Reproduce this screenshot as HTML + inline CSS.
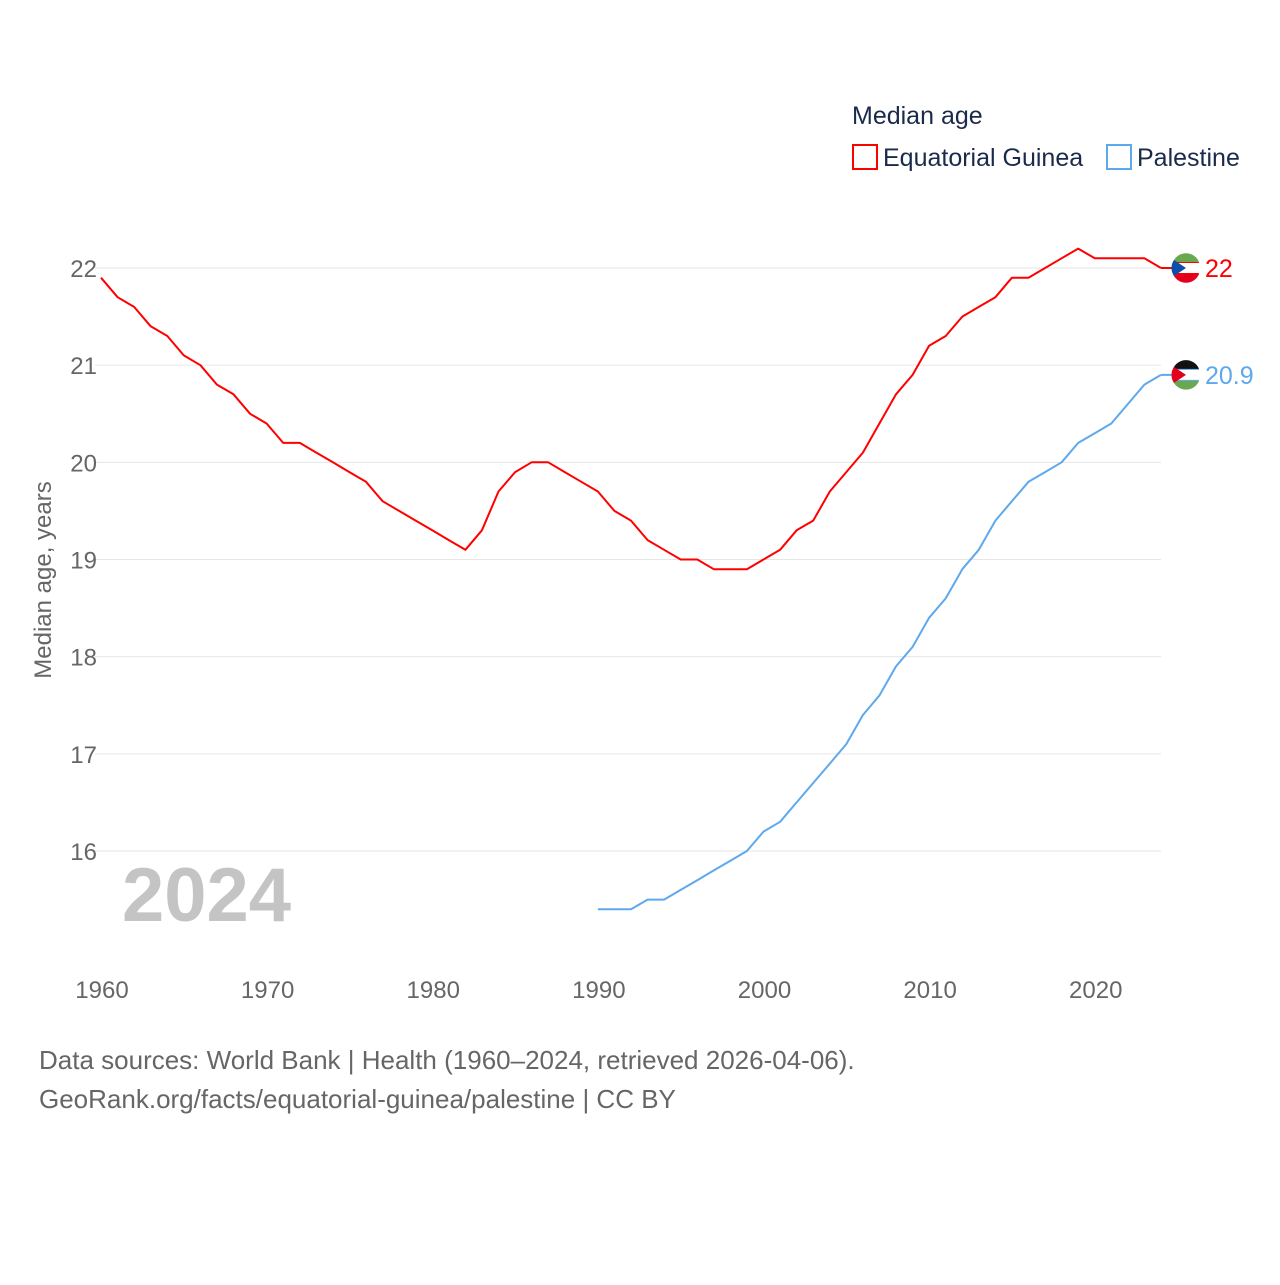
<!DOCTYPE html>
<html><head><meta charset="utf-8"><style>
body{margin:0;background:#fff;font-family:"Liberation Sans",sans-serif;}
svg text{font-family:"Liberation Sans",sans-serif;}
</style></head><body>
<svg id="chart" width="1280" height="1280" viewBox="0 0 1280 1280">
<rect width="1280" height="1280" fill="#fff"/>
<text x="852" y="124" font-size="25" fill="#1a2a4a">Median age</text>
<g><rect x="853" y="145" width="24" height="24" fill="none" stroke="#f00" stroke-width="2"/><text x="883" y="166" font-size="25" fill="#1a2a4a">Equatorial Guinea</text></g>
<g><rect x="1107" y="145" width="24" height="24" fill="none" stroke="#5ea8ee" stroke-width="2"/><text x="1137" y="166" font-size="25" fill="#1a2a4a">Palestine</text></g>
<g id="grid"></g>
<g id="yticks"></g>
<g id="xticks"></g>
<text transform="translate(51,580) rotate(-90)" text-anchor="middle" font-size="24" fill="#666">Median age, years</text>
<text x="122" y="921" font-size="76" font-weight="bold" fill="#c4c4c4">2024</text>
<g id="series"></g>
<text x="39" y="1069" font-size="26" fill="#666">Data sources: World Bank | Health (1960–2024, retrieved 2026-04-06).</text>
<text x="39" y="1108" font-size="26" fill="#666">GeoRank.org/facts/equatorial-guinea/palestine | CC BY</text>
</svg>
<script>
const yTicks=[16,17,18,19,20,21,22];
const xTicks=[1960,1970,1980,1990,2000,2010,2020];
const eqgYears=[];for(let y=1960;y<=2024;y++)eqgYears.push(y);
const eqgValues=[21.9,21.7,21.6,21.4,21.3,21.1,21.0,20.8,20.7,20.5,20.4,20.2,20.2,20.1,20.0,19.9,19.8,19.6,19.5,19.4,19.3,19.2,19.1,19.3,19.7,19.9,20.0,20.0,19.9,19.8,19.7,19.5,19.4,19.2,19.1,19.0,19.0,18.9,18.9,18.9,19.0,19.1,19.3,19.4,19.7,19.9,20.1,20.4,20.7,20.9,21.2,21.3,21.5,21.6,21.7,21.9,21.9,22.0,22.1,22.2,22.1,22.1,22.1,22.1,22.0];
const palYears=[];for(let y=1990;y<=2024;y++)palYears.push(y);
const palValues=[15.4,15.4,15.4,15.5,15.5,15.6,15.7,15.8,15.9,16.0,16.2,16.3,16.5,16.7,16.9,17.1,17.4,17.6,17.9,18.1,18.4,18.6,18.9,19.1,19.4,19.6,19.8,19.9,20.0,20.2,20.3,20.4,20.6,20.8,20.9];
const NS='http://www.w3.org/2000/svg';
const xS=y=>101+(y-1960)*(1161-101)/64;
const yS=v=>851-(v-16)*(851-268)/6;
function mk(t,a,p){const e=document.createElementNS(NS,t);for(const k in a)e.setAttribute(k,a[k]);p.appendChild(e);return e;}
const grid=document.getElementById('grid'),yt=document.getElementById('yticks'),xt=document.getElementById('xticks'),ser=document.getElementById('series');
yTicks.forEach(v=>{
 const l=mk('line',{x1:95,x2:1161,y1:yS(v),y2:yS(v),stroke:'#e6e6e6','stroke-width':1},grid);
 
 
 const t=mk('text',{x:97,y:yS(v)+9,'text-anchor':'end','font-size':24,fill:'#666'},yt);t.textContent=v;
 
 
});
xTicks.forEach(v=>{
 const t=mk('text',{x:xS(v)+1,y:998,'text-anchor':'middle','font-size':24,fill:'#666'},xt);t.textContent=v;
 
 
});
function line(xs,vs,c,name){
 const d=xs.map((x,i)=>(i?'L':'M')+xS(x).toFixed(1)+','+yS(vs[i]).toFixed(1)).join('');
 const p=mk('path',{d:d,fill:'none',stroke:c,'stroke-width':2,'stroke-linejoin':'round'},ser);
 
 
 const lv=vs[vs.length-1],ly=yS(lv);
 mk('line',{x1:xS(xs[xs.length-1]),x2:1172,y1:ly,y2:ly,stroke:c,'stroke-width':2},ser);
 const f=mk('circle',{cx:1186,cy:ly,r:14,fill:c},ser);
 
 
 const t=mk('text',{x:1205,y:ly+9,'font-size':25,fill:c},ser);t.textContent=lv;
 
 
 return ly;
}
const y1=line(eqgYears,eqgValues,'#ff0000','equatorial-guinea');
const y2=line(palYears,palValues,'#5ea8ee','palestine');
mk('path',{d:`M1172,${y1-5}h28v10h-28z`,fill:'#fff'},ser);
mk('path',{d:`M1173,${y1-6}A14,14 0 0 1 1199,${y1-6}z`,fill:'#6aa84f'},ser);
mk('path',{d:`M1173,${y1+6}A14,14 0 0 0 1199,${y1+6}z`,fill:'#e3001b'},ser);
mk('path',{d:`M1174,${y1-8}L1186,${y1}L1174,${y1+8}A14,14 0 0 1 1174,${y1-8}z`,fill:'#0b4fa8'},ser);
mk('path',{d:`M1172,${y2-5}h28v10h-28z`,fill:'#fff'},ser);
mk('path',{d:`M1173,${y2-6}A14,14 0 0 1 1199,${y2-6}z`,fill:'#111'},ser);
mk('path',{d:`M1173,${y2+6}A14,14 0 0 0 1199,${y2+6}z`,fill:'#6aa84f'},ser);
mk('path',{d:`M1174,${y2-8}L1186,${y2}L1174,${y2+8}A14,14 0 0 1 1174,${y2-8}z`,fill:'#e3001b'},ser);
</script>
</body></html>
